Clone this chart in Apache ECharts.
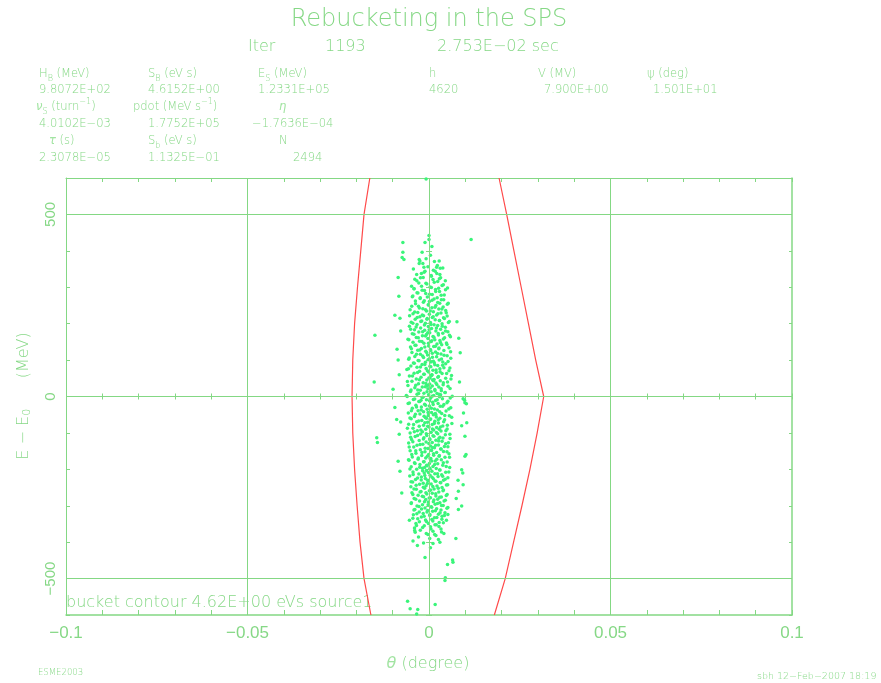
<!DOCTYPE html>
<html>
<head>
<meta charset="utf-8">
<script src="https://cdn.jsdelivr.net/npm/echarts/dist/echarts.min.js"></script>
<style>
  html, body { margin: 0; padding: 0; background: #fff; }
  #main { width: 881px; height: 683px; }
</style>
</head>
<body>
<div id="main"></div>
<script>
// tick labels of the two axes
const xTickValues = [-0.1, -0.05, 0, 0.05, 0.1];
const xTickLabels = ['\u22120.1', '\u22120.05', '0', '0.05', '0.1'];
const yTickValues = [-500, 0, 500];
const yTickLabels = ['\u2212500', '0', '500'];
const gridX = [-0.05, 0, 0.05];
const gridY = [-500, 0, 500];

// bucket contour (separatrix), [theta deg, E - E0 MeV]
const contourLeft = [
  [-.0163, 600], [-.0179, 500], [-.0188, 400], [-.0197, 300], [-.0205, 200], [-.0210, 100], [-.0212, 0],
  [-.0210, -100], [-.0205, -200], [-.0198, -300], [-.0190, -400], [-.0179, -500], [-.0160, -600]
];
const contourRight = [
  [.0193, 600], [.0214, 500], [.0234, 400], [.0254, 300], [.0274, 200], [.0294, 100], [.0316, 0],
  [.0298, -100], [.0278, -200], [.0256, -300], [.0233, -400], [.0210, -500], [.0180, -600]
];

// macro-particles, [theta deg, E - E0 MeV]
const particles = [
  [0,442],[0,431],[-.0011,423],[.0008,412],[-.0019,396],[.0004,388],[-.0008,378],[.0015,371],[-.0027,365],[.0023,360],[-.0003,356],[.0031,352],[-.0043,350],[.0012,347],
  [-.0027,376],[-.0025,372],[-.0017,365],[-.0014,355],[-.0011,344],[.0028,372],[.0021,355],[.0038,353],[.0017,344],[.0030,335],[.0032,326],[-.0034,335],[-.0048,303],
  [-.0021,338],[.0006,332],[.0045,318],[-.0039,322],[-.0016,327],[.0011,321],[.0024,316],[-.0028,312],[-.0006,309],[.0036,305],[.0051,298],[-.0041,296],[.0003,301],
  [-.0019,292],[.0018,294],[.0029,288],[-.0033,285],[-.0009,283],[.0009,280],[.0042,279],[-.0046,274],[-.0024,271],[.0014,268],[.0034,266],[-.0013,263],[.0001,261],
  [.0024,258],[.0053,256],[-.0037,255],[-.0002,252],[.0019,250],[-.0029,248],[.0039,246],[.0008,244],[-.0017,241],[.0027,240],[-.0052,238],[.0046,236],[-.0007,235],
  [.0012,233],[-.0031,231],[.0033,229],[-.0044,227],[.0001,226],[.0021,224],[-.0015,222],[.0050,221],[-.0025,219],[.0009,217],[.0040,216],[-.0005,214],[-.0038,212],
  [.0017,211],[.0029,209],[-.0020,207],[.0056,206],[-.0049,204],[.0004,203],[-.0010,201],[.0036,200],
  [-.0033,198],[.0014,197],[.0024,195],[-.0054,193],[-.0002,192],[.0045,190],[-.0023,188],[.0007,187],[.0032,185],[-.0040,183],[-.0012,182],[.0019,180],[.0052,178],
  [-.0028,177],[.0002,175],[.0038,174],[-.0046,172],[-.0007,170],[.0026,169],[-.0018,167],[.0011,165],[.0059,164],[-.0035,162],[.0043,161],
  [-.0003,159],[-.0058,157],[.0016,156],[.0030,154],[-.0026,152],[.0006,151],[-.0044,149],[.0048,147],[-.0014,146],[.0022,144],[.0035,142],[-.0036,141],[-.0001,139],
  [.0013,137],[-.0051,136],[.0055,134],[-.0021,132],[.0027,131],[.0004,129],[-.0031,127],[.0041,126],[-.0009,124],[.0018,122],[-.0047,121],
  [.0009,119],[.0033,117],[-.0024,116],[-.0004,114],[.0050,112],[-.0039,110],[.0021,109],[-.0015,107],[.0060,105],[.0001,104],[-.0056,102],[.0028,100],[-.0030,99],
  [.0012,97],[.0038,95],[-.0010,94],[-.0043,92],[.0046,90],
  [-.0019,88],[.0016,87],[.0024,85],[-.0050,84],[.0005,82],[-.0033,80],[.0041,79],[-.0008,77],[.0030,76],[-.0061,74],[.0011,72],[.0055,71],[-.0026,69],[-.0001,67],
  [.0020,66],[-.0041,64],[.0036,63],[-.0013,61],[.0008,59],[.0062,58],[-.0054,56],[.0026,55],[-.0022,53],[.0003,51],[.0046,50],[-.0035,48],[.0014,47],[-.0006,45],
  [.0031,43],[-.0047,42],[.0051,40],[-.0016,38],[.0019,37],[-.0029,35],[.0002,34],[.0039,32],[-.0058,30],[.0009,29],[-.0010,27],[.0027,26],[-.0039,24],[.0058,22],
  [-.0003,21],[.0016,19],[-.0024,17],[.0034,16],[-.0051,14],[.0006,13],[.0044,11],[-.0014,9],[.0022,8],[-.0033,6],[-.0001,5],[.0013,3],[.0064,1],[-.0060,0],
  [.0029,-1],[-.0019,-3],[.0004,-5],[.0037,-6],[-.0043,-8],[-.0007,-9],[.0018,-11],[.0052,-13],[-.0028,-14],[.0010,-16],[-.0054,-18],[.0025,-19],[-.0012,-21],
  [.0041,-22],[-.0036,-24],[.0001,-26],[.0031,-27],[-.0021,-29],[.0060,-31],[-.0046,-32],[.0015,-34],[-.0005,-35],[.0023,-37],[-.0030,-39],[.0047,-40],[-.0015,-42],
  [.0007,-44],[-.0057,-45],[.0035,-47],[-.0025,-48],[.0012,-50],[-.0002,-52],[.0056,-53],[-.0040,-55],[.0020,-56],[-.0010,-58],[.0030,-60],[-.0049,-61],[.0003,-63],
  [.0043,-64],[-.0020,-66],[.0016,-68],[-.0034,-69],[-.0004,-71],[.0026,-73],[.0063,-74],[-.0056,-76],[.0009,-77],[-.0015,-79],[.0038,-81],[-.0027,-82],[0,-84],
  [.0021,-85],[-.0044,-87],[.0050,-89],[-.0009,-90],[.0013,-92],[-.0032,-94],[.0033,-95],[-.0018,-97],[.0006,-98],[-.0052,-100],
  [.0008,60],[-.0031,18],[.0028,-90],[.0010,45],[-.0004,30],[.0019,-50],[-.0007,-60],[.0032,5],[-.0022,-10],[.0005,95],
  [.0024,-102],[-.0023,-103],[.0045,-105],[-.0006,-107],[.0011,-108],[-.0038,-110],[.0030,-112],[-.0014,-113],[.0058,-115],[.0002,-116],[-.0048,-118],[.0019,-120],
  [-.0027,-121],[.0036,-123],[-.0008,-125],[.0009,-126],[-.0056,-128],[.0046,-130],[-.0017,-131],[.0026,-133],[-.0033,-134],[.0004,-136],[.0052,-138],[-.0042,-139],
  [.0015,-141],[-.0003,-143],[.0032,-144],[-.0024,-146],[.0007,-148],[-.0052,-149],[.0040,-151],[-.0011,-152],[.0021,-154],[-.0036,-156],[.0055,-157],[-.0001,-159],
  [.0013,-161],[-.0020,-162],[.0028,-164],[-.0046,-166],[.0044,-167],[-.0009,-169],[.0005,-170],[-.0030,-172],[.0034,-174],[-.0055,-175],[.0017,-177],[-.0015,-179],
  [.0050,-180],[-.0040,-182],[.0001,-184],[.0024,-185],[-.0025,-187],[.0038,-189],[-.0005,-190],[.0011,-192],[-.0049,-193],[.0057,-195],[-.0018,-197],[.0020,-198],
  [-.0034,-200],[.0029,-202],[-.0007,-203],[.0008,-205],[-.0044,-207],[.0046,-208],[-.0013,-210],[.0016,-212],[-.0028,-213],[.0035,-215],[.0003,-216],[-.0053,-218],
  [.0025,-220],[-.0021,-221],[.0052,-223],[-.0010,-225],[.0012,-226],[-.0037,-228],[.0040,-230],[-.0002,-231],[.0019,-233],[-.0045,-235],[.0031,-236],[-.0016,-238],
  [.0006,-240],[-.0026,-241],[.0048,-243],[-.0008,-245],[.0022,-246],[-.0050,-248],[.0036,-250],
  [.0010,-140],[-.0012,-195],[.0003,-170],[-.0004,-230],[.0027,-115],
  [-.0012,-252],[.0014,-254],[-.0035,-255],[.0040,-257],[.0001,-259],[-.0022,-261],[.0027,-262],[-.0047,-264],[.0009,-266],[-.0006,-268],[.0050,-269],[-.0030,-271],
  [.0019,-273],[-.0015,-275],[.0034,-276],[.0004,-278],[-.0041,-280],[.0024,-282],[-.0009,-283],[.0045,-285],[-.0026,-287],[.0012,-289],[-.0002,-290],[.0030,-292],
  [-.0049,-294],[.0017,-296],[-.0018,-297],[.0039,-299],[-.0033,-301],[.0006,-303],[.0052,-305],[-.0011,-306],[.0021,-308],[-.0039,-310],[.0033,-312],[-.0004,-313],
  [.0010,-315],[-.0027,-317],[.0044,-319],[-.0016,-321],[.0026,-323],[-.0043,-325],[.0002,-327],[.0036,-329],[-.0021,-331],[.0015,-333],[-.0031,-336],[.0008,-338],
  [.0048,-340],[-.0007,-343],[.0028,-346],[-.0036,-349],
  [.0020,-352],[-.0013,-355],[.0004,-358],[-.0040,-361],[.0033,-364],[-.0024,-367],[.0011,-370],[-.0038,-373],[.0041,-376],[-.0003,-379],[.0019,-382],[-.0029,-386],
  [.0002,-390],[.0026,-393],[-.0044,-397],[.0030,-400],[-.0015,-402],[.0011,-404],[-.0032,-409],[.0004,-415],
  // second pass over the dense core
  [.00065,330],[-.00235,326],[.00285,323],[-.00135,341],[.00215,338],
  [-.00335,318],[.00145,314],[-.00085,311],[.00395,307],[-.00205,303],[.00065,299],[.00265,297],[-.00415,296],
  [.00455,293],[-.00125,291],[.00185,288],[-.00305,284],[.00015,281],[.00335,278],[-.00445,276],[-.00045,273],[.00225,271],
  [-.00245,269],[.00405,266],[.00085,264],[-.00375,262],[-.00155,259],[.00295,256],[.00505,253],[-.00015,251],[-.00475,248],
  [.00165,245],[-.00265,243],[.00355,240],[-.00095,238],[.00035,235],[-.00395,232],[.00475,230],[.00245,227],[-.00185,224],[-.00535,222],
  [.00115,219],[-.00325,217],[.00425,214],[-.00055,212],[.00285,209],[-.00225,206],[.00535,203],[-.00445,201],[.00055,198],[-.00125,196],
  [.00365,193],[-.00355,191],[.00205,188],[-.00505,185],[.00005,183],[.00455,180],[-.00175,178],[-.00035,175],[.00255,173],[-.00415,171],
  [.00565,168],[-.00095,166],[.00135,163],[-.00295,161],[.00395,158],[-.00555,156],[.00075,153],[-.00195,151],[.00315,148],[-.00015,146],
  [.00495,143],[-.00385,141],[.00175,138],[-.00115,136],[.00275,133],[-.00485,131],[-.00255,128],[.00045,126],[.00595,123],[-.00065,121],
  [.00235,118],[-.00345,116],[.00415,113],[-.00175,111],[.00095,108],[-.00545,106],[.00345,103],[-.00025,101],[-.00275,98],[.00525,96],
  [.00145,93],[-.00405,91],[-.00115,88],[.00375,86],[.00025,83],[-.00235,81],[.00575,78],[-.00565,76],[.00195,73],[-.00045,71],
  [.00305,68],[-.00315,66],[.00485,63],[-.00145,61],[.00065,58],[-.00455,56],[.00245,53],[-.00005,51],[.00605,48],[-.00265,46],
  [.00125,43],[-.00595,41],[.00395,38],[-.00085,36],[.00215,33],[-.00365,31],[.00525,28],[-.00185,26],[.00035,23],[.00335,21],
  [-.00495,18],[.00165,16],[-.00055,13],[.00445,11],[-.00285,8],[.00275,6],[-.00625,3],[.00085,1],[-.00165,-2],[.00585,-4],
  [-.00395,-7],[.00225,-9],[.00015,-12],[-.00255,-14],[.00495,-17],[-.00575,-19],[.00115,-22],[-.00095,-24],[.00375,-27],[-.00345,-29],
  [.00065,-32],[.00545,-34],[-.00215,-37],[-.00485,-39],[.00295,-42],[-.00025,-44],[.00175,-47],[-.00375,-49],[.00435,-52],[-.00135,-54],
  [.00625,-57],[-.00525,-59],[.00045,-62],[.00255,-64],[-.00285,-67],[.00405,-69],[-.00115,-72],[.00145,-74],[-.00425,-77],[.00505,-79],
  [-.00035,-82],[.00315,-84],[-.00595,-87],[.00095,-89],[-.00225,-92],[.00465,-94],[-.00405,-97],[.00205,-99],[-.00075,-102],[.00575,-104],
  [-.00315,-107],[.00135,-109],[-.00505,-112],[.00385,-114],[-.00155,-117],[.00025,-119],[.00265,-122],[-.00445,-124],[.00535,-127],[-.00005,-129],
  [-.00245,-132],[.00185,-134],[.00425,-137],[-.00545,-139],[-.00105,-142],[.00335,-144],[.00055,-147],[-.00365,-149],[.00495,-152],[-.00195,-154],
  [.00125,-157],[-.00475,-159],[.00285,-162],[-.00045,-164],[.00565,-167],[-.00295,-169],[.00215,-172],[-.00565,-174],[.00075,-177],[-.00135,-179],
  [.00395,-182],[-.00385,-184],[.00155,-187],[-.00065,-189],[.00475,-192],[-.00255,-194],[.00025,-197],[-.00525,-199],[.00305,-202],[-.00175,-204],
  [.00545,-207],[-.00015,-209],[.00235,-212],[-.00435,-214],[-.00115,-217],[.00375,-219],[.00085,-222],[-.00315,-224],[.00445,-227],[-.00215,-229],
  [.00165,-232],[-.00495,-234],[.00325,-237],[-.00045,-239],[.00515,-242],[-.00355,-244],[.00105,-247],[-.00155,-249],[.00255,-252],[-.00415,-254],
  [.00045,-257],[.00385,-259],[-.00245,-262],[-.00085,-264],[.00185,-267],[-.00445,-269],[.00475,-272],[-.00185,-274],[.00295,-277],[.00005,-279],
  [-.00365,-282],[.00135,-284],[.00415,-287],[-.00125,-289],[-.00485,-292],[.00235,-294],[-.00025,-297],[.00345,-299],[-.00275,-302],[.00075,-304],
  [.00495,-307],[-.00205,-309],[-.00415,-312],[.00175,-314],[-.00055,-317],[.00305,-319],[-.00335,-322],[.00025,-324],[.00425,-327],[-.00135,-329],
  [.00215,-332],[-.00445,-334],[.00355,-337],[-.00095,-339],[.00105,-342],[-.00265,-344],[.00395,-347],[-.00015,-349],[.00165,-352],[-.00345,-354],
  [.00275,-357],[-.00175,-360],[.00055,-364],[-.00395,-368],[.00345,-372],[-.00075,-376],[.00155,-379],
  // outliers
  [-.0072,423],[-.0072,396],[-.0074,382],[-.0069,376],[.0116,431],[-.0085,327],[-.0083,275],[-.0094,223],[-.0008,597],
  [-.0080,215],[-.0078,180],[.0082,160],[-.0088,130],[.0077,205],[-.0149,168],[-.0085,100],[.0086,120],
  [-.0099,20],[-.0094,-30],[.0098,-10],[.0103,-20],[.0095,-45],[-.0151,40],[-.0144,-113],[-.0142,-126],[-.0082,60],[-.0078,-70],[.0084,40],[.0090,-80],
  [.0094,-6],[.0099,-17],[.0104,-72],[.0099,-109],[.0102,-159],[.0099,-164],[.0090,-201],[.0093,-210],[.0094,-242],[.0081,-260],[.0090,-301],[.0081,-310],
  [-.0089,-63],[-.0082,-104],[-.0085,-178],[-.0080,-205],[-.0075,-265],[.0080,-230],[.0075,-280],
  [.0052,-324],[-.0054,-340],[.0074,-390],[-.0011,-442],[.0065,-449],[.0066,-455],[.0051,-461],[.0045,-498],[.0044,-505],
  [-.0059,-562],[-.0052,-583],[-.0031,-585],[-.0034,-597],[.0017,-571]
];

const green = '#84d884';
const textGreen = '#86d886';
const font = 'DejaVu Sans';

function txt(x, y, text, size, align, extra) {
  const tok = (s, more) => Object.assign({ fontFamily: font, fontSize: s, fontWeight: 200, fill: textGreen, color: textGreen }, more);
  return Object.assign({
    type: 'text', x: x, y: y, silent: true,
    style: {
      text: text, fill: textGreen, fontFamily: font, fontSize: size, fontWeight: 200,
      align: align || 'left', verticalAlign: 'middle',
      rich: {
        n: tok(size, { lineHeight: 18 }),
        s: tok(size * 0.7, { verticalAlign: 'bottom', lineHeight: 10 }),
        p: tok(size * 0.7, { verticalAlign: 'top', lineHeight: 10 }),
        i: tok(size, { fontStyle: 'italic', fontWeight: 'normal', fill: '#a2e4a2', color: '#a2e4a2', lineHeight: 18 })
      }
    }
  }, extra || {});
}

function pickLabel(values, labels) {
  return function (v) {
    for (let i = 0; i < values.length; i++) {
      if (Math.abs(v - values[i]) < 1e-9 * Math.max(1, Math.abs(values[i]))) return labels[i];
    }
    return '';
  };
}

const chart = echarts.init(document.getElementById('main'));

const xBase = { type: 'value', min: -0.1, max: 0.1, interval: 0.01, splitLine: { show: false } };
const yBase = { type: 'value', min: -600, max: 600, interval: 100, splitLine: { show: false } };
const tick = (inside, len) => ({ inside: inside, length: len, lineStyle: { color: green } });

const option = {
  animation: false,
  backgroundColor: '#fff',
  grid: { left: 66, right: 89, top: 178, bottom: 68 },
  xAxis: [
    Object.assign({}, xBase, {
      position: 'bottom',
      axisLine: { onZero: false, lineStyle: { color: green, width: 1.5 } },
      axisTick: tick(true, 5),
      axisLabel: { formatter: pickLabel(xTickValues, xTickLabels), color: textGreen, fontSize: 17, fontFamily: 'Liberation Sans', margin: 10 }
    }),
    Object.assign({}, xBase, { position: 'top', axisLine: { onZero: false, lineStyle: { color: green } }, axisTick: tick(true, 4), axisLabel: { show: false } }),
    // ticks crossing the E = 0 line
    Object.assign({}, xBase, { position: 'bottom', axisLine: { onZero: true, show: false }, axisTick: tick(false, 3), axisLabel: { show: false } }),
    Object.assign({}, xBase, { position: 'top', axisLine: { onZero: true, show: false }, axisTick: tick(false, 3), axisLabel: { show: false } })
  ],
  yAxis: [
    Object.assign({}, yBase, {
      position: 'left',
      axisLine: { onZero: false, lineStyle: { color: green } },
      axisTick: tick(true, 4),
      axisLabel: { formatter: pickLabel(yTickValues, yTickLabels), rotate: 90, color: textGreen, fontSize: 15, fontFamily: 'Liberation Sans', margin: 8 }
    }),
    Object.assign({}, yBase, { position: 'right', axisLine: { onZero: false, lineStyle: { color: green, width: 1.5 } }, axisTick: tick(true, 3), axisLabel: { show: false } }),
    // ticks crossing the theta = 0 line
    Object.assign({}, yBase, { position: 'left', axisLine: { onZero: true, show: false }, axisTick: tick(false, 3), axisLabel: { show: false } }),
    Object.assign({}, yBase, { position: 'right', axisLine: { onZero: true, show: false }, axisTick: tick(false, 3), axisLabel: { show: false } })
  ],
  series: [
    {
      type: 'line', data: [], z: 1, silent: true,
      markLine: {
        silent: true, symbol: 'none', animation: false,
        label: { show: false },
        lineStyle: { color: green, width: 1, type: 'solid' },
        data: gridX.map(v => ({ xAxis: v })).concat(gridY.map(v => ({ yAxis: v })))
      }
    },
    {
      type: 'scatter', data: particles, z: 3, silent: true,
      symbolSize: 3.5, itemStyle: { color: '#3af57a', opacity: 1 }
    },
    {
      type: 'line', data: contourLeft, z: 4, silent: true, showSymbol: false,
      lineStyle: { color: '#ff4a4a', width: 1.2 }
    },
    {
      type: 'line', data: contourRight, z: 4, silent: true, showSymbol: false,
      lineStyle: { color: '#ff4a4a', width: 1.2 }
    }
  ],
  graphic: [
    txt(429, 20, 'Rebucketing in the SPS', 24, 'center'),
    txt(248, 47, 'Iter', 16),
    txt(325, 47, '1193', 16),
    txt(437, 47, '2.753E\u221202 sec', 16),

    txt(39, 74, '{n|H}{s|B}{n| (MeV)}', 11.5),
    txt(148, 74, '{n|S}{s|B}{n| (eV s)}', 11.5),
    txt(258, 74, '{n|E}{s|S}{n| (MeV)}', 11.5),
    txt(429, 74, 'h', 11.5),
    txt(538, 74, 'V (MV)', 11.5),
    txt(647, 74, '\u03c8 (deg)', 11.5),
    txt(39, 90, '9.8072E+02', 11.5),
    txt(148, 90, '4.6152E+00', 11.5),
    txt(258, 90, '1.2331E+05', 11.5),
    txt(429, 90, '4620', 11.5),
    txt(544, 90, '7.900E+00', 11.5),
    txt(653, 90, '1.501E+01', 11.5),

    txt(36, 107, '{i|\u03bd}{s|S}{n| (turn}{p|\u22121}{n|)}', 11.5),
    txt(133, 107, '{n|pdot (MeV s}{p|\u22121}{n|)}', 11.5),
    txt(279, 107, '{i|\u03b7}', 11.5),
    txt(39, 124, '4.0102E\u221203', 11.5),
    txt(148, 124, '1.7752E+05', 11.5),
    txt(252, 124, '\u22121.7636E\u221204', 11.5),

    txt(49, 141, '{i|\u03c4}{n| (s)}', 11.5),
    txt(148, 141, '{n|S}{s|b}{n| (eV s)}', 11.5),
    txt(279, 141, 'N', 11.5),
    txt(39, 158, '2.3078E\u221205', 11.5),
    txt(148, 158, '1.1325E\u221201', 11.5),
    txt(293, 158, '2494', 11.5),

    txt(66, 603, 'bucket contour 4.62E+00 eVs source1', 16),
    txt(24, 396, '{n|E \u2212 E}{s|0}{n|      (MeV)}', 16, 'center', { rotation: Math.PI / 2 }),
    txt(428, 664, '{i|\u03b8}{n| (degree)}', 16, 'center'),
    txt(38, 673, 'ESME2003', 8.5),
    txt(757, 677, 'sbh 12\u2212Feb\u22122007 18:19', 9.5)
  ]
};

chart.setOption(option);
</script>
</body>
</html>
